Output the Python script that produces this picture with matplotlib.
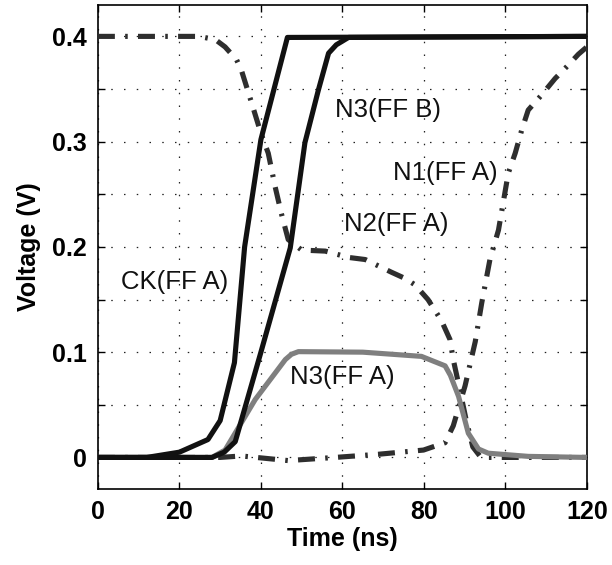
import matplotlib
matplotlib.use("Agg")
import matplotlib.pyplot as plt
from matplotlib.ticker import MultipleLocator

plt.rcParams['font.family'] = ['Liberation Sans', 'DejaVu Sans']

# ---- data ----
ck_t = [0, 12, 20, 27, 30, 33.5, 36, 40, 46.5, 120]
ck_v = [0, 0, 0.005, 0.017, 0.035, 0.09, 0.2, 0.302, 0.399, 0.4]

n3b_t = [0, 28, 31, 33.7, 40, 47.2, 50.8, 54.1, 56.6, 58.5, 61.5, 120]
n3b_v = [0, 0, 0.005, 0.015, 0.1, 0.199, 0.299, 0.349, 0.384, 0.392, 0.399, 0.4]

n3a_t = [0, 28, 31.2, 38.6, 46, 47.5, 49.2, 65, 79.4, 85.2, 86.5, 88.5, 90.9, 93.4, 95.8, 105.6, 120]
n3a_v = [0, 0, 0.007, 0.055, 0.093, 0.098, 0.1005, 0.1, 0.096, 0.087, 0.078, 0.058, 0.023, 0.008, 0.004, 0.001, 0.0]

n1_t = [0, 30, 35.2, 46.7, 58.2, 68.8, 79.9, 85.2, 87.2, 90.1, 92.6, 94.2, 96.2, 98.3, 100.7,
        102.4, 104, 105.6, 108.8, 112.2, 115.5, 117.9, 120]
n1_v = [0, 0, 0.0014, -0.003, 0.0, 0.003, 0.007, 0.014, 0.03, 0.068, 0.11, 0.147, 0.188, 0.216, 0.27,
        0.289, 0.311, 0.33, 0.344, 0.36, 0.373, 0.383, 0.39]

n2_t = [0, 24.7, 28.8, 31.2, 34, 35.2, 37.7, 40, 41.8, 43.5, 45, 46.7, 50, 55.8, 61.5, 65.6,
        72, 75.4, 77.8, 81, 84.3, 86.4, 87.2, 88.5, 90.4, 92, 94, 120]
n2_v = [0.4, 0.4, 0.397, 0.39, 0.378, 0.368, 0.337, 0.308, 0.289, 0.257, 0.232, 0.207, 0.197, 0.196,
        0.19, 0.188, 0.176, 0.17, 0.164, 0.15, 0.13, 0.112, 0.093, 0.07, 0.035, 0.01, 0.0, 0.0]

labels = ["N3(FF B)", "N1(FF A)", "N2(FF A)", "CK(FF A)", "N3(FF A)"]
label_x = [71.3, 85.3, 73.3, 18.8, 60.0]
label_y = [0.33, 0.27, 0.222, 0.167, 0.076]

xticks = [0, 20, 40, 60, 80, 100, 120]
yticks = [0, 0.1, 0.2, 0.3, 0.4]
ytick_labels = ["0", "0.1", "0.2", "0.3", "0.4"]

# ---- figure ----
fig = plt.figure(figsize=(6.12, 5.65), dpi=100)
ax = fig.add_axes([0.160, 0.1345, 0.799, 0.857])

lw = 3.7
dashdot = (0, (3.3, 2.0, 0.5, 2.0))
ax.plot(n2_t, n2_v, color='#2e2e2e', lw=lw, linestyle=dashdot, zorder=3)
ax.plot(n1_t, n1_v, color='#2e2e2e', lw=lw, linestyle=dashdot, zorder=3)
ax.plot(n3a_t, n3a_v, color='#7f7f7f', lw=lw, solid_capstyle='butt', zorder=4)
ax.plot(ck_t, ck_v, color='#111111', lw=lw, zorder=5)
ax.plot(n3b_t, n3b_v, color='#111111', lw=lw, zorder=5)

for s, x, y in zip(labels, label_x, label_y):
    ax.text(x, y, s, fontsize=18.5, ha='center', va='center', color='#111111', zorder=6)

ax.set_xlim(0, 120)
ax.set_ylim(-0.03, 0.43)
ax.set_xticks(xticks)
ax.set_yticks(yticks)
ax.set_yticklabels(ytick_labels)
ax.yaxis.set_minor_locator(MultipleLocator(0.05))

grid_ls = (0, (1.2, 9))
ax.grid(True, which='major', axis='both', color='#222222', linestyle=grid_ls, linewidth=0.9)
ax.grid(True, which='minor', axis='y', color='#222222', linestyle=grid_ls, linewidth=0.9)

ax.tick_params(which='both', direction='in', top=True, right=True, length=5, width=1,
               labelsize=18)
ax.tick_params(which='major', pad=8)
for lab in ax.get_xticklabels() + ax.get_yticklabels():
    lab.set_fontweight('bold')

for sp in ax.spines.values():
    sp.set_linewidth(1.2)

ax.set_xlabel("Time (ns)", fontsize=18, fontweight='bold', labelpad=2)
ax.set_ylabel("Voltage (V)", fontsize=18, fontweight='bold', labelpad=8)

fig.savefig("out.png", dpi=100)
